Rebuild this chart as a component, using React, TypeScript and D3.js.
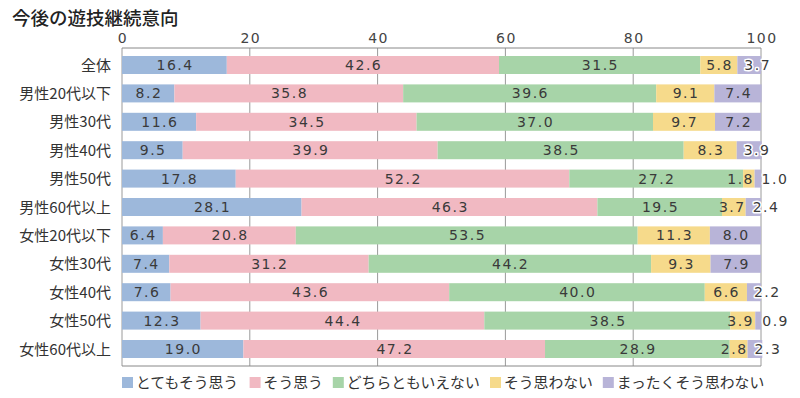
import * as d3 from "d3";

const categories = [
  "全体",
  "男性20代以下",
  "男性30代",
  "男性40代",
  "男性50代",
  "男性60代以上",
  "女性20代以下",
  "女性30代",
  "女性40代",
  "女性50代",
  "女性60代以上",
];

const seriesNames = ["とてもそう思う", "そう思う", "どちらともいえない", "そう思わない", "まったくそう思わない"];

const veryMuch = [16.4, 8.2, 11.6, 9.5, 17.8, 28.1, 6.4, 7.4, 7.6, 12.3, 19.0];
const think = [42.6, 35.8, 34.5, 39.9, 52.2, 46.3, 20.8, 31.2, 43.6, 44.4, 47.2];
const neither = [31.5, 39.6, 37.0, 38.5, 27.2, 19.5, 53.5, 44.2, 40.0, 38.5, 28.9];
const dontThink = [5.8, 9.1, 9.7, 8.3, 1.8, 3.7, 11.3, 9.3, 6.6, 3.9, 2.8];
const notAtAll = [3.7, 7.4, 7.2, 3.9, 1.0, 2.4, 8.0, 7.9, 2.2, 0.9, 2.3];

const tickValues = [0, 20, 40, 60, 80, 100];

const colors = ["#9db8db", "#f1b9c2", "#a7d4a8", "#f6da8b", "#b8b4d8"];

const W = 800;
const H = 398;
const frameTop = 48;
const frameBottom = 366;

const numFont = "'DejaVu Sans', sans-serif";
const jpFont = "'Noto Sans CJK JP', sans-serif";
const numSize = 14;
const numSpacing = 1.5;

export default function App() {
  const series = [veryMuch, think, neither, dontThink, notAtAll];
  const rows = categories.map((c, i) => {
    const r: any = { cat: c };
    seriesNames.forEach((s, k) => (r[s] = series[k][i]));
    return r;
  });
  const stacked = d3.stack<any>().keys(seriesNames)(rows);

  const x = d3.scaleLinear().domain([0, 100]).range([122, 761]);
  const y = d3
    .scaleBand()
    .domain(categories)
    .range([50.8, 363.2])
    .paddingInner(0.366)
    .paddingOuter(0.183);
  const bw = y.bandwidth();

  // legend layout: swatch + text, width from character count
  const legFont = 14.8;
  let lx = 122;
  const legend = seriesNames.map((s, k) => {
    const item = { s, k, x: lx };
    lx += 14 + s.length * legFont + 10;
    return item;
  });

  const labelFor = (layerIdx: number, d: any, i: number) => {
    const v = series[layerIdx][i];
    const cy = (y(categories[i]) as number) + bw / 2 + 5;
    const x0 = x(d[0]);
    const x1 = x(d[1]);
    if (layerIdx === 4 && v < 4.5) {
      return { x: x0 + 7, y: cy, anchor: "start", halo: true, v };
    }
    if (layerIdx === 3 && v < 4.5) {
      return { x: Math.min(x1, x(100) - 7), y: cy, anchor: "end", halo: false, v };
    }
    return { x: (x0 + x1) / 2 + numSpacing / 2, y: cy, anchor: "middle", halo: false, v };
  };

  return (
    <svg width={W} height={H} style={{ position: "absolute", left: 0, top: 0, background: "#fff" }}>
      <text x={12} y={25} fontFamily={jpFont} fontSize={18.5} fontWeight={500} fill="#222">
        今後の遊技継続意向
      </text>

      {/* grid + tick labels */}
      {tickValues.map((t) => (
        <g key={t}>
          <line x1={x(t)} x2={x(t)} y1={frameTop} y2={frameBottom} stroke="#9a9a9a" strokeWidth={1} />
          <text
            x={x(t) + 1}
            y={43}
            textAnchor="middle"
            fontFamily={numFont}
            fontSize={numSize}
            letterSpacing={numSpacing}
            fill="#444"
          >
            {t}
          </text>
        </g>
      ))}
      <line x1={x(0)} x2={x(100)} y1={frameTop} y2={frameTop} stroke="#888" />
      <line x1={x(0)} x2={x(100)} y1={frameBottom} y2={frameBottom} stroke="#888" />

      {/* bars */}
      {stacked.map((layer, k) => (
        <g key={layer.key} fill={colors[k]}>
          {layer.map((d, i) => (
            <rect
              key={i}
              x={x(d[0])}
              y={y(categories[i])}
              width={x(d[1]) - x(d[0])}
              height={bw}
            />
          ))}
        </g>
      ))}

      {/* value labels */}
      {stacked.map((layer, k) => (
        <g key={"l" + layer.key}>
          {layer.map((d, i) => {
            const l = labelFor(k, d, i);
            return (
              <text
                key={i}
                x={l.x}
                y={l.y}
                textAnchor={l.anchor as any}
                fontFamily={numFont}
                fontSize={numSize}
                letterSpacing={numSpacing}
                fill="#3a3a3a"
                stroke={l.halo ? "#fff" : "none"}
                strokeWidth={l.halo ? 3 : 0}
                strokeLinejoin="round"
                paintOrder="stroke"
              >
                {l.v.toFixed(1)}
              </text>
            );
          })}
        </g>
      ))}

      {/* category labels */}
      {categories.map((c) => (
        <text
          key={c}
          x={111}
          y={(y(c) as number) + bw / 2 + 5.5}
          textAnchor="end"
          fontFamily={jpFont}
          fontSize={15}
          fill="#333"
        >
          {c}
        </text>
      ))}

      {/* legend */}
      {legend.map((it) => (
        <g key={it.s}>
          <rect x={it.x} y={377} width={11} height={11} fill={colors[it.k]} />
          <text x={it.x + 14} y={388} fontFamily={jpFont} fontSize={legFont} fill="#333">
            {it.s}
          </text>
        </g>
      ))}
    </svg>
  );
}
